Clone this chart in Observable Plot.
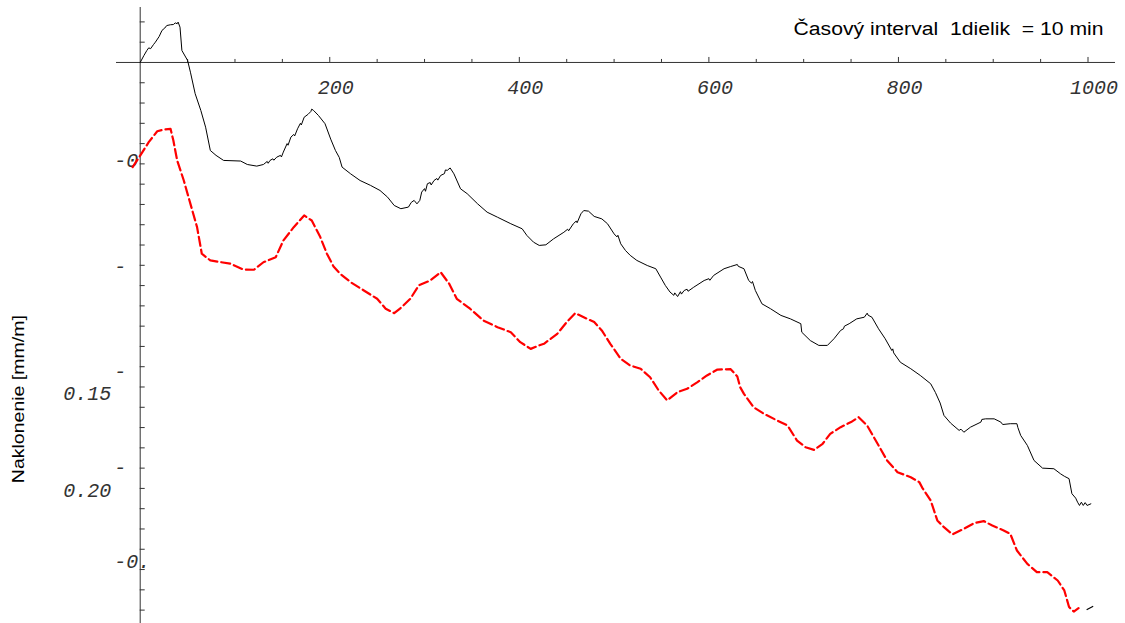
<!DOCTYPE html>
<html>
<head>
<meta charset="utf-8">
<script src="https://cdn.jsdelivr.net/npm/d3@7"></script>
<script src="https://cdn.jsdelivr.net/npm/@observablehq/plot@0.6"></script>
<style>
  html, body { margin: 0; padding: 0; background: #fff; }
  svg text { white-space: pre; }
</style>
</head>
<body>
<div id="chart"></div>
<script>
// ---- data (time in dielik units, tilt in mm/m) ----
const titleText = "Časový interval  1dielik  = 10 min";
const yAxisTitle = "Naklonenie [mm/m]";

const blackSeries = [[0,0],[4,0.0035],[7,0.0059],[9,0.0072],[11,0.0068],[14,0.0088],[16,0.0100],[20,0.0128],[23,0.0158],[26,0.0170],[28,0.0182],[32,0.0186],[35,0.0187],[37,0.0195],[39,0.0191],[40,0.0199],[42,0.0174],[44,0.0059],[50,0.0010],[53,-0.0048],[58,-0.0154],[64,-0.0237],[69,-0.0319],[74,-0.0434],[80,-0.0458],[88,-0.0483],[106,-0.0486],[113,-0.0503],[123,-0.0511],[130,-0.0503],[134,-0.0488],[135,-0.0497],[137,-0.0483],[140,-0.0475],[141,-0.0482],[144,-0.0467],[148,-0.0458],[149,-0.0466],[151,-0.0442],[155,-0.0400],[156,-0.0408],[159,-0.0368],[162,-0.0355],[163,-0.0362],[166,-0.0327],[169,-0.0300],[170,-0.0308],[173,-0.0270],[177,-0.0256],[180,-0.0242],[181,-0.0230],[183,-0.0237],[188,-0.0261],[195,-0.0302],[201,-0.0378],[206,-0.0434],[210,-0.0468],[213,-0.0516],[222,-0.0549],[232,-0.0582],[243,-0.0606],[253,-0.0631],[261,-0.0664],[268,-0.0705],[275,-0.0721],[283,-0.0713],[286,-0.0690],[289,-0.0680],[292,-0.0697],[295,-0.0680],[297,-0.0639],[300,-0.0622],[301,-0.0635],[303,-0.0598],[306,-0.0592],[307,-0.0604],[310,-0.0582],[313,-0.0572],[314,-0.0580],[317,-0.0557],[321,-0.0548],[322,-0.0530],[324,-0.0532],[327,-0.0520],[331,-0.0549],[338,-0.0623],[345,-0.0647],[356,-0.0697],[366,-0.0738],[377,-0.0763],[391,-0.0795],[403,-0.0820],[408,-0.0853],[415,-0.0886],[421,-0.0902],[428,-0.0899],[436,-0.0870],[447,-0.0837],[451,-0.0822],[452,-0.0830],[457,-0.0795],[460,-0.0782],[461,-0.0790],[465,-0.0746],[468,-0.0730],[473,-0.0733],[479,-0.0759],[487,-0.0771],[493,-0.0795],[500,-0.0845],[503,-0.0860],[504,-0.0852],[507,-0.0894],[512,-0.0927],[517,-0.0951],[524,-0.0976],[535,-0.1001],[544,-0.1017],[549,-0.1058],[554,-0.1099],[559,-0.1132],[563,-0.1148],[564,-0.1136],[567,-0.1154],[570,-0.1130],[571,-0.1142],[574,-0.1124],[577,-0.1118],[578,-0.1128],[584,-0.1108],[595,-0.1075],[600,-0.1066],[601,-0.1074],[605,-0.1050],[616,-0.1017],[623,-0.1006],[630,-0.0996],[631,-0.1005],[637,-0.1017],[642,-0.1075],[645,-0.1088],[646,-0.1080],[649,-0.1124],[656,-0.1190],[665,-0.1214],[676,-0.1247],[686,-0.1264],[697,-0.1288],[698,-0.1330],[707,-0.1371],[716,-0.1395],[725,-0.1395],[732,-0.1362],[739,-0.1321],[742,-0.1313],[743,-0.1300],[748,-0.1288],[756,-0.1264],[764,-0.1256],[767,-0.1236],[768,-0.1246],[772,-0.1256],[779,-0.1313],[786,-0.1362],[793,-0.1420],[794,-0.1412],[795,-0.1432],[802,-0.1478],[813,-0.1510],[823,-0.1543],[834,-0.1584],[839,-0.1627],[844,-0.1679],[848,-0.1740],[855,-0.1778],[864,-0.1814],[866,-0.1808],[869,-0.1823],[876,-0.1798],[887,-0.1773],[888,-0.1760],[892,-0.1757],[901,-0.1757],[908,-0.1773],[910,-0.1785],[918,-0.1781],[925,-0.1781],[926,-0.1800],[929,-0.1839],[936,-0.1888],[943,-0.1962],[952,-0.2000],[964,-0.2003],[971,-0.2028],[975,-0.2040],[980,-0.2052],[983,-0.2126],[987,-0.2148],[989,-0.2168],[991,-0.2184],[993,-0.2168],[995,-0.2184],[997,-0.2170],[999,-0.2184],[1003,-0.2176]];

const blackTail = [[999,-0.2697],[1005,-0.2682]];

const redSeries = [[-8,-0.0516],[0,-0.0459],[9,-0.0393],[18,-0.0339],[25,-0.0331],[32,-0.0327],[35,-0.0385],[39,-0.0483],[46,-0.0582],[53,-0.0697],[60,-0.0812],[65,-0.0943],[74,-0.0976],[95,-0.0992],[109,-0.1021],[120,-0.1022],[130,-0.0985],[143,-0.0960],[151,-0.0878],[162,-0.0812],[173,-0.0754],[181,-0.0779],[190,-0.0861],[197,-0.0943],[204,-0.1006],[211,-0.1042],[222,-0.1083],[236,-0.1124],[250,-0.1165],[259,-0.1214],[268,-0.1236],[276,-0.1206],[285,-0.1165],[294,-0.1099],[306,-0.1075],[317,-0.1034],[326,-0.1091],[334,-0.1165],[348,-0.1214],[362,-0.1272],[377,-0.1305],[391,-0.1330],[401,-0.1379],[412,-0.1412],[421,-0.1395],[426,-0.1387],[440,-0.1338],[450,-0.1280],[459,-0.1236],[468,-0.1256],[479,-0.1280],[487,-0.1321],[496,-0.1387],[507,-0.1461],[517,-0.1494],[528,-0.1510],[538,-0.1552],[547,-0.1617],[556,-0.1666],[567,-0.1625],[577,-0.1609],[588,-0.1576],[598,-0.1543],[609,-0.1514],[623,-0.1512],[630,-0.1548],[633,-0.1601],[637,-0.1634],[647,-0.1699],[658,-0.1732],[672,-0.1765],[683,-0.1790],[693,-0.1864],[702,-0.1897],[711,-0.1910],[720,-0.1880],[728,-0.1831],[739,-0.1798],[750,-0.1773],[758,-0.1749],[767,-0.1790],[778,-0.1880],[788,-0.1962],[799,-0.2020],[813,-0.2045],[822,-0.2069],[825,-0.2096],[834,-0.2159],[841,-0.2258],[848,-0.2291],[857,-0.2327],[869,-0.2299],[880,-0.2271],[890,-0.2261],[899,-0.2283],[911,-0.2307],[918,-0.2324],[925,-0.2406],[936,-0.2472],[946,-0.2513],[957,-0.2513],[968,-0.2554],[975,-0.2603],[980,-0.2685],[985,-0.2707],[990,-0.2690]];

// tick values and labels
const xMajorTicks = [200, 400, 600, 800, 1000];
const xMinorTicks = [50, 100, 150, 250, 300, 350, 450, 500, 550, 650, 700, 750, 850, 900, 950];
const xTickLabels = ["200", "400", "600", "800", "1000"];
const yTicks = [0.02, 0.01, -0.01, -0.02, -0.03, -0.04, -0.05, -0.06, -0.07, -0.08, -0.09, -0.10,
  -0.11, -0.12, -0.13, -0.14, -0.15, -0.16, -0.17, -0.18, -0.19, -0.20, -0.21, -0.22, -0.23, -0.24,
  -0.25, -0.26, -0.27];
const yLabelValues = [-0.0483, -0.1004, -0.1523, -0.1997, -0.2461];
const yLabelTexts = ["-0", "-", "-", "-", "-0."];
const ySideLabelValues = [-0.1634, -0.2110];
const ySideLabelTexts = ["0.15", "0.20"];
const yTitlePos = {t: -128, v: -0.1660};

// ---- build ----
const black = blackSeries.map(([t, v]) => ({t, v}));
const tail = blackTail.map(([t, v]) => ({t, v}));
const red = redSeries.map(([t, v]) => ({t, v}));
const xLab = xMajorTicks.map((x, i) => ({x, text: xTickLabels[i]}));
const yLab = yLabelValues.map((y, i) => ({y, text: yLabelTexts[i]}));
const ySide = ySideLabelValues.map((y, i) => ({y, text: ySideLabelTexts[i]}));

const axisColor = "#333";
const tickFont = {fontFamily: "Liberation Mono", fontStyle: "italic", fontSize: 20, fill: "#333"};

const chart = Plot.plot({
  width: 1125,
  height: 623,
  marginLeft: 116,
  marginRight: 10,
  marginTop: 7,
  marginBottom: 0,
  style: {fontFamily: "Liberation Sans", background: "#fff", overflow: "visible"},
  x: {domain: [-25, 1029], axis: null},
  y: {domain: [-0.2766, 0.0271], axis: null},
  marks: [
    // axis lines
    Plot.ruleY([0], {stroke: axisColor, strokeWidth: 1}),
    Plot.ruleX([0], {stroke: axisColor, strokeWidth: 1}),
    // x ticks (pointing up)
    Plot.ruleX(xMajorTicks, {x: d => d, y1: () => 0, y2: () => 0, insetBottom: 5, stroke: axisColor}),
    Plot.ruleX(xMinorTicks, {x: d => d, y1: () => 0, y2: () => 0, insetBottom: 3, stroke: axisColor}),
    // y ticks (pointing right)
    Plot.ruleY(yTicks, {y: d => d, x1: () => 0, x2: () => 0, insetRight: -5, stroke: axisColor}),
    // tick labels
    Plot.text(xLab, {x: "x", y: () => 0, text: "text", dx: 6, dy: 25, ...tickFont}),
    Plot.text(yLab, {x: () => 0, y: "y", text: "text", textAnchor: "start", dx: -26, ...tickFont}),
    Plot.text(ySide, {x: () => 0, y: "y", text: "text", textAnchor: "start", dx: -77, ...tickFont}),
    // title and axis label
    Plot.text([titleText], {frameAnchor: "top-right", textAnchor: "end", dx: -12, dy: 15,
      fontSize: 18, fontFamily: "Liberation Sans", fill: "#000"}),
    Plot.text([yAxisTitle], {x: () => yTitlePos.t, y: () => yTitlePos.v, text: d => d, rotate: -90,
      fontSize: 16, fontFamily: "Liberation Sans", fill: "#000"}),
    // series
    Plot.line(red, {x: "t", y: "v", stroke: "#ff0000", strokeWidth: 2.2, strokeDasharray: "9,4"}),
    Plot.line(black, {x: "t", y: "v", stroke: "#000", strokeWidth: 1}),
    Plot.line(tail, {x: "t", y: "v", stroke: "#000", strokeWidth: 1.2})
  ]
});

document.getElementById("chart").appendChild(chart);

// stretch title / axis label to the reference widths
d3.select(chart).selectAll("text").each(function () {
  const t = this.textContent;
  if (t === titleText) {
    this.setAttribute("textLength", 310);
    this.setAttribute("lengthAdjust", "spacingAndGlyphs");
  } else if (t === yAxisTitle) {
    this.setAttribute("textLength", 168);
    this.setAttribute("lengthAdjust", "spacingAndGlyphs");
  }
});
</script>
</body>
</html>
